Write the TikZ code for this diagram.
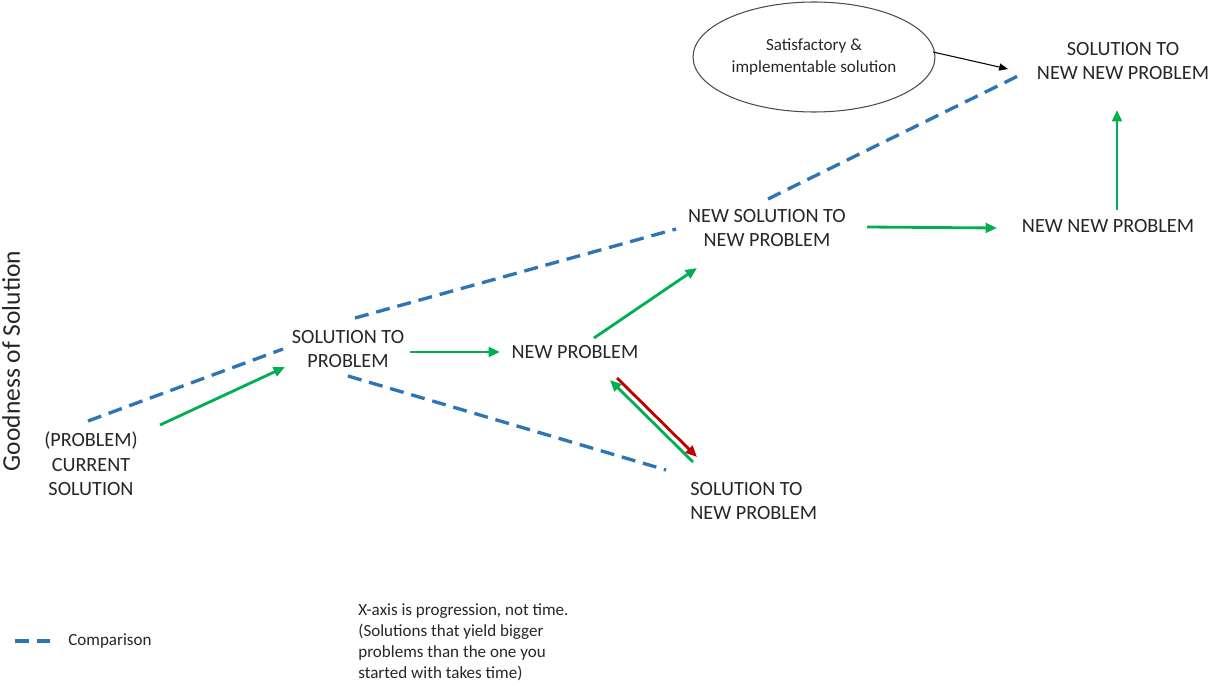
\documentclass[tikz,border=0pt]{standalone}
\usepackage{fontspec}
\setmainfont{Carlito}
\usepackage{tikz}
\usetikzlibrary{arrows.meta,shapes.geometric}

\definecolor{movegreen}{HTML}{00B050}
\definecolor{backred}{HTML}{C00000}
\definecolor{compblue}{HTML}{2E75B6}

\tikzset{
  stage/.style={inner sep=0pt, align=center, text=black!85, font=\fontsize{11.5}{14}\selectfont},
  note/.style={inner sep=0pt, align=left, text=black!85, font=\fontsize{9.7}{12}\selectfont},
  move/.style={draw=movegreen, line width=1.6pt, -{Triangle[length=6.5pt,width=5.5pt]}},
  back/.style={draw=backred, line width=1.6pt, -{Triangle[length=6.5pt,width=5.5pt]}},
  compare/.style={draw=compblue, line width=1.9pt, dash pattern=on 8pt off 4.5pt},
}

\begin{document}
\begin{tikzpicture}[x=0.02cm, y=-0.02cm]
\useasboundingbox (0,0) rectangle (1208,686);

% stages
\node[stage] (cur) at (91,464) {(PROBLEM)\\CURRENT\\SOLUTION};
\node[stage] (sp) at (348,349) {SOLUTION TO\\PROBLEM};
\node[stage] (np) at (575,352) {NEW PROBLEM};
\node[stage, align=left, anchor=west] (snp) at (690,501) {SOLUTION TO\\NEW PROBLEM};
\node[stage] (nsnp) at (767,228) {NEW SOLUTION TO\\NEW PROBLEM};
\node[stage] (nnp) at (1108,226) {NEW NEW PROBLEM};
\node[stage] (snnp) at (1123,61) {SOLUTION TO\\NEW NEW PROBLEM};
\node[ellipse, draw=black!70, line width=0.6pt, minimum width=4.84cm, minimum height=2.2cm,
      inner sep=0pt, align=center, text=black!85, font=\fontsize{9.7}{12}\selectfont]
      (ell) at (814,57) {Satisfactory \&\\implementable solution};

% axis and notes
\node[rotate=90, inner sep=0pt, text=black!85, font=\fontsize{14.5}{17}\selectfont] (yaxis) at (11,361) {Goodness of Solution};
\node[note, anchor=west] (comp) at (68,641) {Comparison};
\node[note, anchor=north west] (xnote) at (358,603) {X-axis is progression, not time.\\(Solutions that yield bigger\\problems than the one you\\started with takes time)};

% progress
\draw[move] ([shift={(69,-39)}]cur.center) -- ([shift={(-63,18)}]sp.center);
\draw[move] ([shift={(62,3)}]sp.center) -- ([shift={(-75,0)}]np.center);
\draw[move] ([shift={(19,-14)}]np.center) -- ([shift={(-70,40)}]nsnp.center);
\draw[move] ([shift={(100,-1)}]nsnp.center) -- ([shift={(-111,2)}]nnp.center);
\draw[move] ([shift={(9,-16)}]nnp.center) -- ([shift={(-6,49)}]snnp.center);
\draw[move] ([shift={(3,-39)}]snp.west) -- ([shift={(35,28)}]np.center);
\draw[back] ([shift={(42,26)}]np.center) -- ([shift={(7,-44)}]snp.west);
\draw[black, line width=0.6pt, -{Triangle[length=5pt,width=4pt]}] ([shift={(119,-5)}]ell.center) -- ([shift={(-115,8)}]snnp.center);

% comparisons
\draw[compare] ([shift={(-3,-43)}]cur.center) -- ([shift={(-65,0)}]sp.center);
\draw[compare] ([shift={(7,-31)}]sp.center) -- ([shift={(-91,1)}]nsnp.center);
\draw[compare] ([shift={(1,-29)}]nsnp.center) -- ([shift={(-105,15)}]snnp.center);
\draw[compare] ([shift={(0,27)}]sp.center) -- ([shift={(-24,-31)}]snp.west);
\draw[compare] ([shift={(-53,0)}]comp.west) -- ([shift={(-18,0)}]comp.west);

\end{tikzpicture}
\end{document}
